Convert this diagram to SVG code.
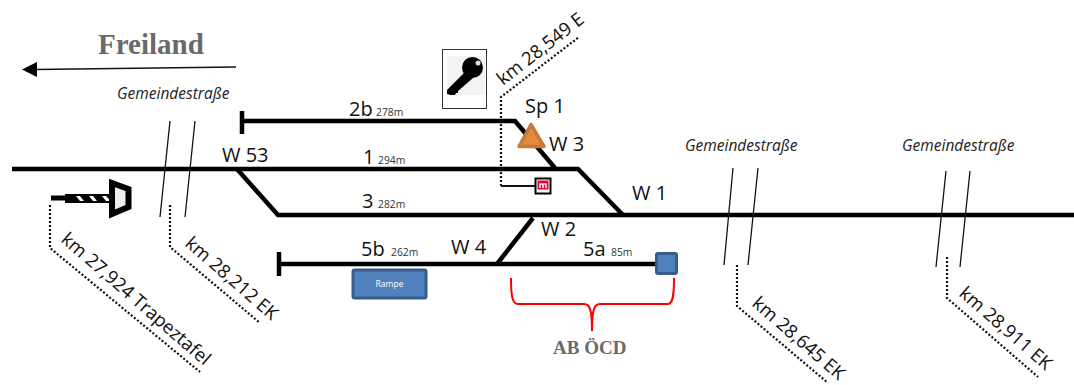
<svg xmlns="http://www.w3.org/2000/svg" width="1074" height="385" viewBox="0 0 1074 385">
<style>
.t{font-family:"Open Sans","Noto Sans",sans-serif;fill:#111}
.l{font-size:20px}
.s{font-size:10.300px;fill:#333}
.k{font-size:18.500px}
.g{font-family:"Open Sans","Noto Sans",sans-serif;font-size:15.500px;font-style:italic;fill:#222}
.h{font-family:"Liberation Serif",serif;font-weight:bold;fill:#6a6a6a}
.tr{fill:none;stroke:#000;stroke-width:4.500;stroke-linejoin:miter}
.rd{fill:none;stroke:#111;stroke-width:1.300}
.dot{fill:none;stroke:#111;stroke-width:2.200;stroke-dasharray:2 2}
</style>
<rect width="1074" height="385" fill="#fff"/>
<g id="connectors">
<path class="tr" d="M12 169H578L623 215"/>
<path class="tr" d="M237 169L278 215H1074"/>
<path class="tr" d="M242 121H515L555 168"/>
<path class="tr" d="M279 264H660"/>
<path class="tr" d="M497 264L533 218"/>
<path class="tr" d="M242 111V134M279 252V276"/>
<path class="rd" d="M170 121L160 217M195 121L185 217M733 168L724 265M758 168L748 265M946 171L936 267M970 171L960 267"/>
<path class="dot" d="M50 205V248L200 372M170 205V247L260 323M737 265V306L828 383M947 257V298L1038 377M501 186V97L579 37"/>
<path d="M501 186H536" fill="none" stroke="#111" stroke-width="2"/>
<path d="M236 67L35 69.500" fill="none" stroke="#111" stroke-width="1.600"/>
<path d="M22 69.500L37 62V77Z" fill="#000"/>
<path d="M511 278C511 295 512 304 518 304H584C590 304 592 310 592 331C592 310 594 304 600 304H668C673 304 674 295 674 278" fill="none" stroke="#f00" stroke-width="2"/>
</g>
<g id="trapeze">
<path d="M51 198H66" stroke="#000" stroke-width="5" fill="none"/>
<rect x="65" y="194" width="45" height="9" fill="#000"/>
<path d="M76 196L80 201H84L80 196ZM89 196L93 201H97L93 196ZM102 196L106 201H109V199L106 196Z" fill="#fff"/>
<path d="M112 183L128.500 189V207L112 214Z" fill="#eee" stroke="#000" stroke-width="6"/>
</g>
<g id="key">
<rect x="442.500" y="49.500" width="44" height="59" fill="#fff" stroke="#333"/>
<rect x="447" y="56" width="38" height="39" fill="#f3f3f3"/>
<circle cx="472.500" cy="67.500" r="10.500" fill="#000"/>
<circle cx="478" cy="63" r="2.500" fill="#ddd"/>
<path d="M466 71L473 78L458 91L458 93H456L455 95H453L451 95L447 94V90Z" fill="#000"/>
</g>
<g id="signal-m">
<rect x="535.500" y="178.500" width="15" height="15" fill="#fff" stroke="#000" stroke-width="2"/>
<rect x="537.500" y="180.500" width="11" height="9" fill="#e8003a"/>
<path d="M540 188V184H546V188M543 184V188" fill="none" stroke="#fff" stroke-width="1.500"/>
</g>
<g id="sp1">
<path d="M531 124.500L519 146.500H544Z" fill="#e08a3c" stroke="#c47a3a" stroke-width="3.500" stroke-linejoin="round"/>
</g>
<g id="rampe">
<rect x="353" y="270" width="73" height="28" rx="1.500" fill="#4f81bd" stroke="#385d8a" stroke-width="3"/>
<text x="389.500" y="287" text-anchor="middle" font-family="Open Sans,sans-serif" font-size="8.500" fill="#fff">Rampe</text>
</g>
<g id="ab-end">
<rect x="656.500" y="253.500" width="20" height="20" rx="1.500" fill="#4f81bd" stroke="#385d8a" stroke-width="3"/>
</g>
<g id="labels">
<text class="h" x="98" y="54" font-size="29">Freiland</text>
<text class="h" x="553" y="354" font-size="19">AB ÖCD</text>
<text class="g" x="117" y="99">Gemeindestraße</text>
<text class="g" x="685" y="151">Gemeindestraße</text>
<text class="g" x="902" y="151">Gemeindestraße</text>
<text class="t l" x="222" y="162">W 53</text>
<text class="t l" x="349" y="116">2b</text><text class="t s" x="376" y="116">278m</text>
<text class="t l" x="363" y="164">1</text><text class="t s" x="378" y="164">294m</text>
<text class="t l" x="362" y="208">3</text><text class="t s" x="378" y="208">282m</text>
<text class="t l" x="361" y="256">5b</text><text class="t s" x="391" y="256">262m</text>
<text class="t l" x="583" y="256">5a</text><text class="t s" x="611" y="256">85m</text>
<text class="t l" x="451" y="254">W 4</text>
<text class="t l" x="541" y="236">W 2</text>
<text class="t l" x="549" y="151">W 3</text>
<text class="t l" x="632" y="200">W 1</text>
<text class="t l" x="525" y="113">Sp 1</text>
<text class="t k" transform="translate(503 86) rotate(-38)">km 28,549 E</text>
<text class="t k" transform="translate(60 241) rotate(41)">km 27,924 Trapeztafel</text>
<text class="t k" transform="translate(184 245) rotate(41)">km 28,212 EK</text>
<text class="t k" transform="translate(751 305) rotate(41)">km 28,645 EK</text>
<text class="t k" transform="translate(958 295) rotate(41)">km 28,911 EK</text>
</g>
</svg>
